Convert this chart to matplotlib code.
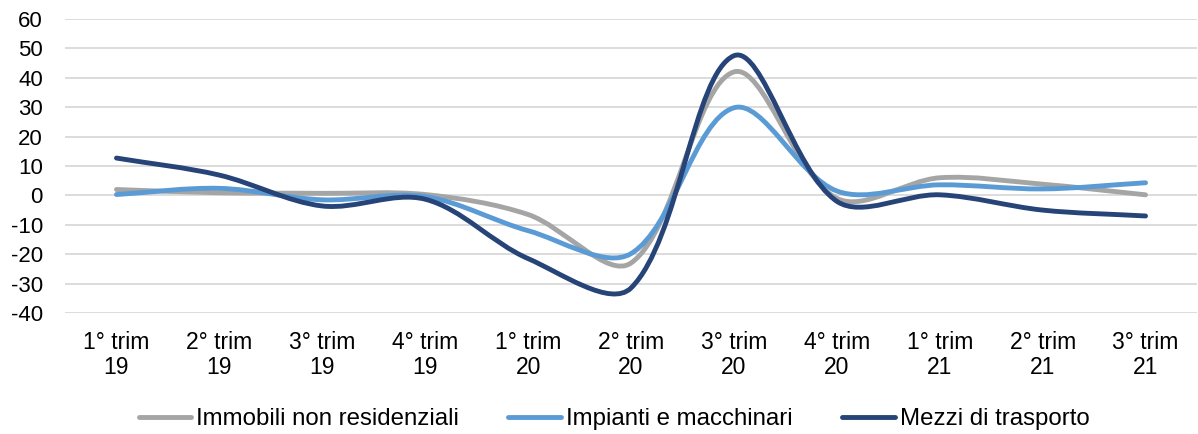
import matplotlib
matplotlib.use("Agg")
import matplotlib.pyplot as plt
import numpy as np
from matplotlib.path import Path
from matplotlib.patches import PathPatch
from matplotlib.lines import Line2D

plt.rcParams['font.family'] = ['Liberation Sans', 'DejaVu Sans']
plt.rcParams['axes.unicode_minus'] = False

# -----------------------------------------------------------------------
# data
labels = ['1° trim\n19', '2° trim\n19', '3° trim\n19', '4° trim\n19',
          '1° trim\n20', '2° trim\n20', '3° trim\n20', '4° trim\n20',
          '1° trim\n21', '2° trim\n21', '3° trim\n21']
immobili = [2.0, 0.9, 0.7, 0.3, -6.5, -23.0, 42.0, -1.0, 6.0, 3.8, 0.2]
impianti = [0.3, 2.4, -1.5, -0.4, -12.0, -19.8, 29.8, 1.5, 3.6, 2.2, 4.3]
mezzi = [12.7, 6.9, -3.6, -1.3, -21.5, -31.5, 47.5, -2.0, 0.2, -5.0, -7.0]

series = [('Immobili non residenziali', immobili, '#A5A5A5'),
          ('Impianti e macchinari', impianti, '#5B9BD5'),
          ('Mezzi di trasporto', mezzi, '#264478')]

# pixel size of one unit on each axis, used so the smoothing is done in screen space
XPX = 1132 / 11.
YPX = 294 / 100.


def smooth_path(x, y):
	# smoothed line: cubic bezier through every point,
	# control arms split by the length of the neighbouring segments
	sx = np.asarray(x, float) * XPX
	sy = np.asarray(y, float) * YPX
	n = len(sx)
	verts = [(x[0], y[0])]
	codes = [Path.MOVETO]
	outs = []
	ins = []
	for i in range(n):
		a = max(i - 1, 0)
		c = min(i + 1, n - 1)
		tx, ty = sx[c] - sx[a], sy[c] - sy[a]
		d1 = np.hypot(sx[i] - sx[a], sy[i] - sy[a])
		d2 = np.hypot(sx[c] - sx[i], sy[c] - sy[i])
		tot = d1 + d2
		if tot == 0:
			tot = 1.
		ins.append((sx[i] - tx * d1 / tot / 3., sy[i] - ty * d1 / tot / 3.))
		outs.append((sx[i] + tx * d2 / tot / 3., sy[i] + ty * d2 / tot / 3.))
	for i in range(n - 1):
		c1 = (outs[i][0] / XPX, outs[i][1] / YPX)
		c2 = (ins[i + 1][0] / XPX, ins[i + 1][1] / YPX)
		verts += [c1, c2, (x[i + 1], y[i + 1])]
		codes += [Path.CURVE4] * 3
	return Path(verts, codes)


fig = plt.figure(figsize=(11.98, 4.34), dpi=100)
ax = fig.add_axes([65 / 1198., 1 - 313 / 434., 1132 / 1198., 294 / 434.])

xvals = np.arange(len(labels))
handles = []
for name, vals, col in series:
	patch = PathPatch(smooth_path(xvals, vals), facecolor='none', edgecolor=col,
	                  lw=3.5, capstyle='round', joinstyle='round', zorder=3)
	ax.add_patch(patch)
	handles.append(Line2D([], [], color=col, lw=3.5, solid_capstyle='round', label=name))

ax.set_xlim(-0.5, len(labels) - 0.5)
ax.set_ylim(-40, 60)
ax.set_yticks(np.arange(-40, 61, 10))
ax.set_xticks(xvals)
ax.set_xticklabels(labels, linespacing=1.1)
ax.grid(axis='y', color='#D9D9D9', lw=1.3)
ax.set_axisbelow(True)
for s in ax.spines.values():
	s.set_visible(False)
ax.tick_params(axis='both', length=0, labelsize=16, colors='black')
ax.tick_params(axis='x', pad=13, labelsize=16.5)
ax.tick_params(axis='y', pad=16)

fig.legend(handles=handles, loc='center', bbox_to_anchor=(614 / 1198., 1 - 419 / 434.),
           ncol=3, frameon=False, fontsize=17.3, handlelength=2.2, handletextpad=0.2,
           columnspacing=2.05)

fig.savefig('out.png', dpi=100)
